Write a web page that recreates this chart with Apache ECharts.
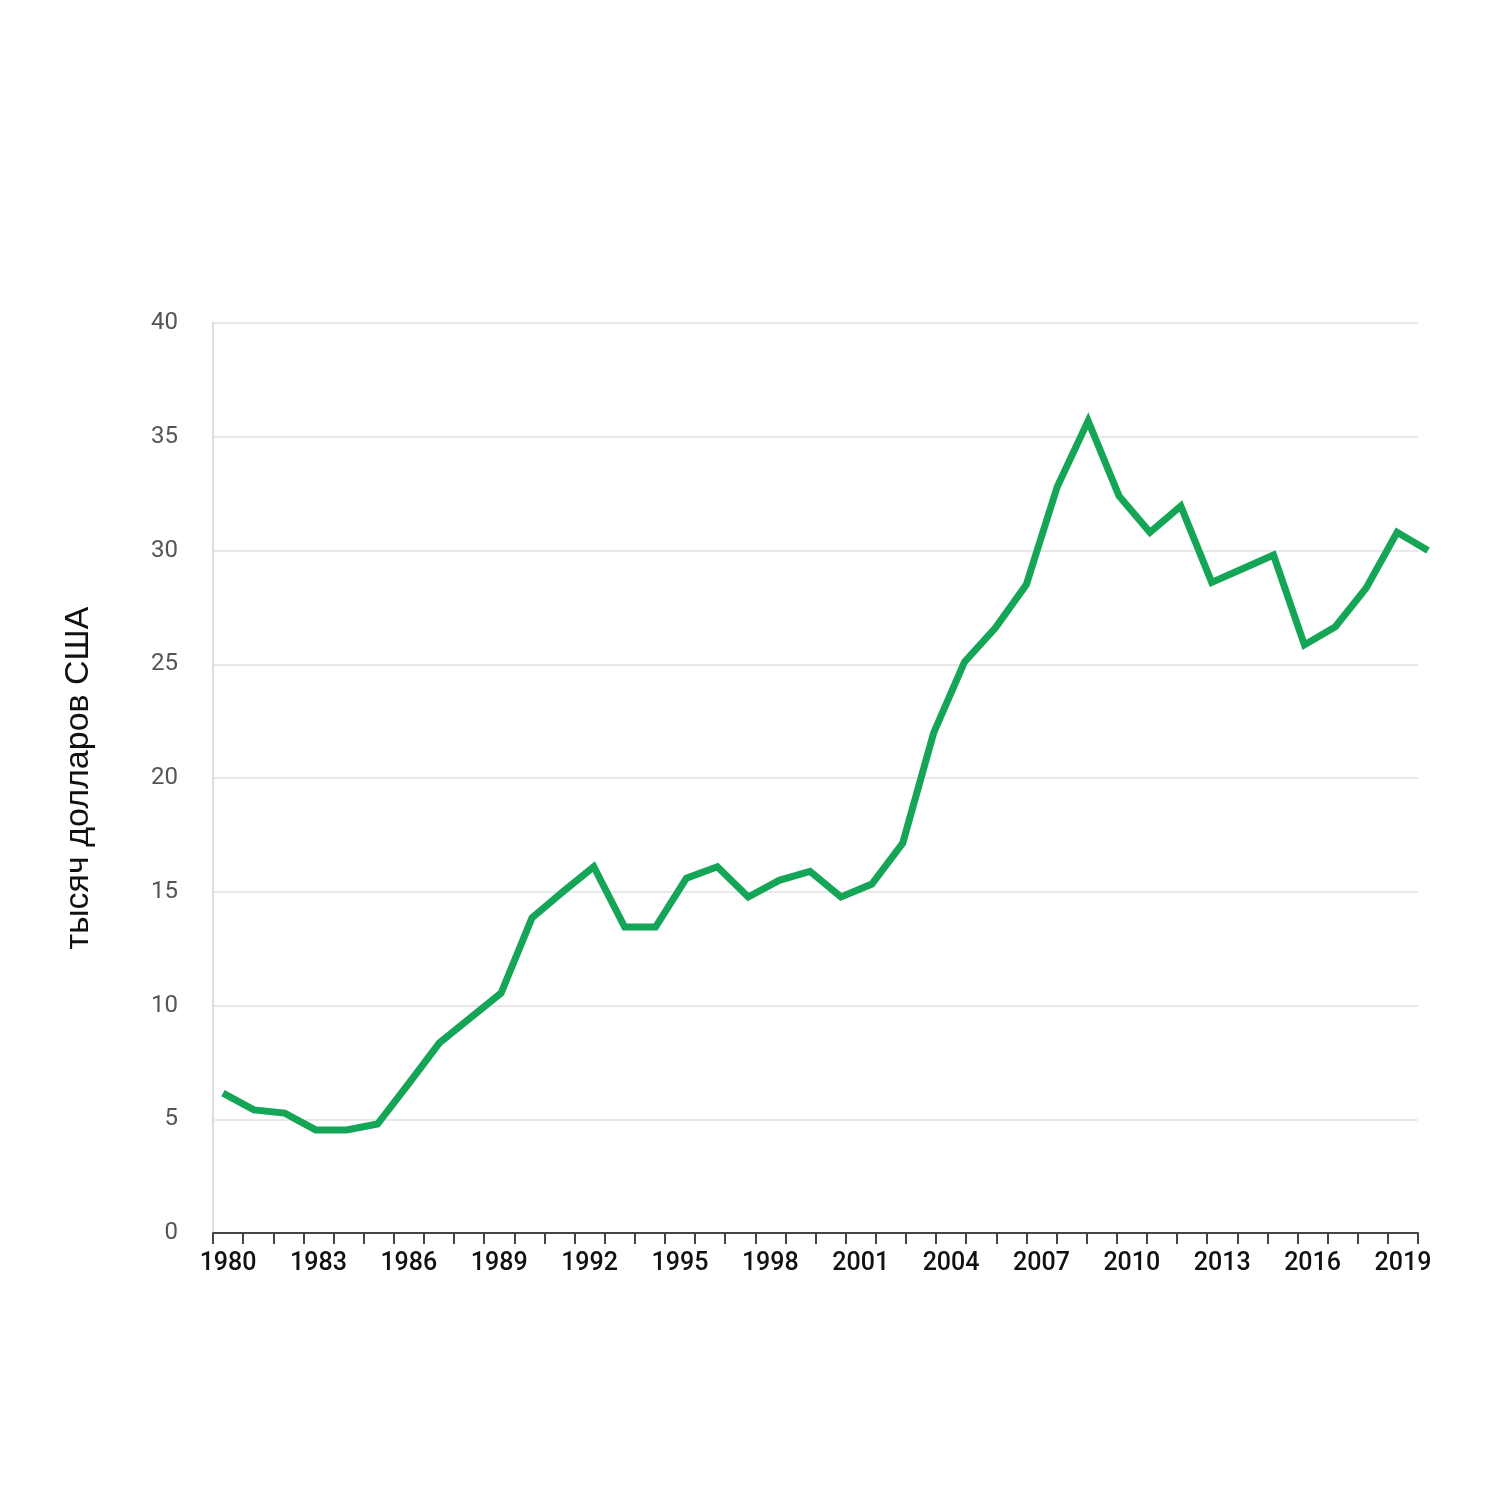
<!DOCTYPE html>
<html>
<head>
<meta charset="utf-8">
<script src="https://cdn.jsdelivr.net/npm/echarts@6/dist/echarts.min.js"></script>
<style>
html,body{margin:0;padding:0;background:#fff;}
#chart{width:1500px;height:1500px;}
</style>
</head>
<body>
<div id="chart"></div>
<script>
var years = [];
for (var y = 1980; y <= 2019; y++) years.push(String(y));

var values = [
  6.15, 5.41, 5.27, 4.53, 4.53, 4.79, 6.55, 8.35, 9.45, 10.55,
  13.85, 15.0, 16.1, 13.45, 13.45, 15.6, 16.1, 14.77, 15.5, 15.9,
  14.77, 15.34, 17.14, 21.98, 25.1, 26.6, 28.5, 32.8, 35.7, 32.4,
  30.8, 31.95, 28.6, 29.2, 29.8, 25.85, 26.65, 28.35, 30.8, 30.0
];

var yAxisName = 'тысяч долларов США';

var chart = echarts.init(document.getElementById('chart'));
chart.setOption({
  backgroundColor: '#ffffff',
  animation: false,
  grid: [
    {left: 213, right: 82, top: 323, bottom: 267},
    {left: 223, right: 72, top: 323, bottom: 267}
  ],
  xAxis: [
    {
      type: 'category', gridIndex: 0, data: years, boundaryGap: true,
      axisLine: {show: true, lineStyle: {color: '#444', width: 2}},
      axisTick: {show: true, interval: 0, length: 11, lineStyle: {color: '#444', width: 2}},
      axisLabel: {interval: 2, margin: 18, color: '#111', fontFamily: 'Roboto', fontWeight: 500, fontSize: 25},
      splitLine: {show: false}
    },
    {
      type: 'category', gridIndex: 1, data: years, boundaryGap: false, show: false
    }
  ],
  yAxis: [
    {
      type: 'value', gridIndex: 0, min: 0, max: 40, interval: 5,
      name: yAxisName, nameLocation: 'middle', nameGap: 117, nameRotate: 90,
      nameTextStyle: {color: '#111', fontFamily: 'Liberation Sans', fontSize: 34},
      axisLine: {show: true, lineStyle: {color: '#dcdcdc', width: 2}},
      axisTick: {show: false},
      axisLabel: {margin: 35, color: '#555', fontFamily: 'Roboto', fontSize: 24},
      splitLine: {show: true, lineStyle: {color: '#e2e2e2', width: 1.5}}
    },
    {
      type: 'value', gridIndex: 1, min: 0, max: 40, show: false
    }
  ],
  series: [
    {
      type: 'line', xAxisIndex: 1, yAxisIndex: 1, data: values,
      symbol: 'none', smooth: false,
      lineStyle: {color: '#14a556', width: 7, join: 'miter'},
      itemStyle: {color: '#14a556'}
    }
  ]
});
</script>
</body>
</html>
